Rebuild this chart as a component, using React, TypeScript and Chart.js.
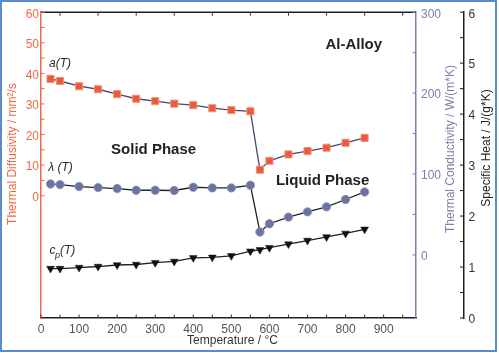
import React, { useEffect, useRef } from 'react';
import { Chart, registerables } from 'chart.js';

Chart.register(...registerables);

// ---- data ----
const temperatures = [25, 50, 100, 150, 200, 250, 300, 350, 400, 450, 500, 550, 575, 600, 650, 700, 750, 800, 850];
const diffusivity = [38.2, 37.5, 35.8, 34.8, 33.2, 31.7, 30.9, 30.1, 29.6, 28.6, 28.0, 27.6, 8.5, 11.4, 13.5, 14.6, 15.7, 17.3, 18.9];
const conductivity = [87.7, 86.9, 84.5, 83.2, 82.0, 79.9, 79.9, 79.6, 83.6, 82.8, 82.8, 86.1, 28.3, 38.5, 46.7, 53.2, 59.4, 68.5, 77.8];
const specificHeat = [0.97, 0.97, 0.99, 1.01, 1.04, 1.05, 1.085, 1.11, 1.18, 1.19, 1.22, 1.31, 1.34, 1.38, 1.45, 1.52, 1.59, 1.66, 1.74];

// ---- ticks ----
const xTicks = [0, 50, 100, 150, 200, 250, 300, 350, 400, 450, 500, 550, 600, 650, 700, 750, 800, 850, 900, 950];
const xLabels = ['0', '100', '200', '300', '400', '500', '600', '700', '800', '900'];
const topTicks = [50, 150, 250, 350, 450, 550, 650, 750, 850, 950];
const diffTicks = [0, 5, 10, 15, 20, 25, 30, 35, 40, 45, 50, 55, 60];
const diffLabels = ['0', '10', '20', '30', '40', '50', '60'];
const condTicks = [0, 50, 100, 150, 200, 250, 300];
const condLabels = ['0', '100', '200', '300'];
const heatTicks = [0, 0.5, 1, 1.5, 2, 2.5, 3, 3.5, 4, 4.5, 5, 5.5, 6];
const heatLabels = ['0', '1', '2', '3', '4', '5', '6'];

const FONT = '"Liberation Sans", Arial, Helvetica, sans-serif';
const RED = '#ee6a45';
const SLATE = '#7b81aa';
const DARK = '#1e1e1e';

const decorPlugin = {
  id: 'decor',
  beforeDraw(chart: any) {
    const ctx = chart.ctx;
    ctx.save();
    ctx.fillStyle = '#ffffff';
    ctx.fillRect(0, 0, chart.width, chart.height);
    ctx.restore();
  },
  afterDraw(chart: any) {
    const ctx = chart.ctx;
    const { x, y, y2, y3 } = chart.scales;
    const area = chart.chartArea;
    ctx.save();

    // top border line
    ctx.strokeStyle = DARK;
    ctx.lineWidth = 1.5;
    ctx.beginPath();
    ctx.moveTo(area.left, area.top);
    ctx.lineTo(area.right, area.top);
    ctx.stroke();

    // inward tick marks
    ctx.lineWidth = 1;
    ctx.strokeStyle = '#333';
    ctx.beginPath();
    xTicks.forEach((v) => {
      const p = x.getPixelForValue(v);
      ctx.moveTo(p, area.bottom);
      ctx.lineTo(p, area.bottom - 3.5);
    });
    topTicks.forEach((v) => {
      const p = x.getPixelForValue(v);
      ctx.moveTo(p, area.top);
      ctx.lineTo(p, area.top + 3.5);
    });
    ctx.stroke();

    ctx.strokeStyle = RED;
    ctx.beginPath();
    diffTicks.forEach((v) => {
      const p = y.getPixelForValue(v);
      ctx.moveTo(area.left, p);
      ctx.lineTo(area.left + 3.5, p);
    });
    ctx.stroke();

    ctx.strokeStyle = SLATE;
    ctx.beginPath();
    condTicks.forEach((v) => {
      const p = y2.getPixelForValue(v);
      ctx.moveTo(area.right, p);
      ctx.lineTo(area.right - 3.5, p);
    });
    ctx.stroke();

    ctx.strokeStyle = DARK;
    ctx.beginPath();
    heatTicks.forEach((v) => {
      const p = y3.getPixelForValue(v);
      ctx.moveTo(y3.left, p);
      ctx.lineTo(y3.left - 4, p);
    });
    ctx.stroke();

    // axis titles
    const vTitle = (text: string, cx: number, cy: number, color: string) => {
      ctx.save();
      ctx.translate(cx, cy);
      ctx.rotate(-Math.PI / 2);
      ctx.fillStyle = color;
      ctx.font = `12px ${FONT}`;
      ctx.textAlign = 'center';
      ctx.textBaseline = 'middle';
      ctx.fillText(text, 0, 0);
      ctx.restore();
    };
    vTitle('Thermal Diffusivity / mm²/s', 13, 154, RED);
    vTitle('Thermal Conductivity / W/(m*K)', 450.5, 149, SLATE);
    vTitle('Specific Heat / J/(g*K)', 487, 148, '#222');

    ctx.fillStyle = '#333';
    ctx.font = `12px ${FONT}`;
    ctx.textAlign = 'center';
    ctx.textBaseline = 'middle';
    ctx.fillText('Temperature / °C', 232.5, 341);

    // annotations
    ctx.fillStyle = '#2a2a2a';
    ctx.textAlign = 'left';
    ctx.textBaseline = 'middle';
    ctx.font = `italic 12px ${FONT}`;
    ctx.fillText('a(T)', x.getPixelForValue(21), y.getPixelForValue(43.1));
    ctx.fillText('λ (T)', x.getPixelForValue(19), y.getPixelForValue(9.2));
    const cx = x.getPixelForValue(22);
    const cy = y3.getPixelForValue(1.32);
    ctx.fillText('c', cx, cy);
    const cw = ctx.measureText('c').width;
    ctx.font = `italic 9px ${FONT}`;
    ctx.fillText('p', cx + cw - 0.5, cy + 5);
    const pw = ctx.measureText('p').width;
    ctx.font = `italic 12px ${FONT}`;
    ctx.fillText('(T)', cx + cw + pw - 0.5, cy);

    ctx.fillStyle = '#222';
    ctx.font = `bold 15px ${FONT}`;
    ctx.fillText('Al-Alloy', x.getPixelForValue(747), y.getPixelForValue(49.2));
    ctx.fillText('Solid Phase', x.getPixelForValue(184), y.getPixelForValue(14.9));
    ctx.fillText('Liquid Phase', x.getPixelForValue(617), y.getPixelForValue(4.9));

    // frame
    ctx.strokeStyle = '#5b8bc9';
    ctx.lineWidth = 2;
    ctx.strokeRect(1, 1, 495, 350);
    ctx.restore();
  },
};

export default function App() {
  const canvasRef = useRef<HTMLCanvasElement | null>(null);

  useEffect(() => {
    if (!canvasRef.current) return;
    Chart.defaults.font.family = FONT;
    const pts = (vals: number[]) => temperatures.map((t, i) => ({ x: t, y: vals[i] }));

    const chart = new Chart(canvasRef.current, {
      type: 'line',
      data: {
        datasets: [
          {
            label: 'a(T)',
            yAxisID: 'y',
            data: pts(diffusivity),
            borderColor: '#4e4470',
            borderWidth: 1.3,
            pointStyle: 'rect',
            pointRadius: 5,
            pointBackgroundColor: '#e85c3c',
            pointBorderColor: '#f29076',
            pointBorderWidth: 1,
            tension: 0,
          },
          {
            label: 'λ(T)',
            yAxisID: 'y2',
            data: pts(conductivity),
            borderColor: '#222',
            borderWidth: 1.3,
            pointStyle: 'circle',
            pointRadius: 4.2,
            pointBackgroundColor: '#6b74a1',
            pointBorderColor: '#8a92b8',
            pointBorderWidth: 0.8,
            tension: 0,
          },
          {
            label: 'cp(T)',
            yAxisID: 'y3',
            data: pts(specificHeat),
            borderColor: '#222',
            borderWidth: 1.3,
            pointStyle: 'triangle',
            pointRotation: 180,
            pointRadius: 4.5,
            pointBackgroundColor: '#111',
            pointBorderColor: '#111',
            pointBorderWidth: 0.5,
            tension: 0,
          },
        ],
      },
      options: {
        animation: false,
        responsive: false,
        events: [],
        layout: { padding: { top: 10, left: 0, right: 0, bottom: 0 } },
        plugins: { legend: { display: false }, tooltip: { enabled: false } },
        scales: {
          x: {
            type: 'linear',
            position: 'bottom',
            min: 0,
            max: 985,
            afterBuildTicks: (s: any) => {
              s.ticks = xTicks.map((v) => ({ value: v }));
            },
            afterFit: (s: any) => {
              s.height = 35;
            },
            ticks: {
              autoSkip: false,
              maxRotation: 0,
              minRotation: 0,
              padding: 4,
              color: '#555',
              font: { size: 12 },
              callback: (v: any) => (xLabels.includes(String(v)) ? String(v) : ''),
            },
            grid: { display: false, drawTicks: false },
            border: { display: true, color: DARK, width: 1.5 },
          },
          y: {
            type: 'linear',
            position: 'left',
            min: -40,
            max: 60,
            afterBuildTicks: (s: any) => {
              s.ticks = diffTicks.map((v) => ({ value: v }));
            },
            afterFit: (s: any) => {
              s.width = 41;
            },
            ticks: {
              autoSkip: false,
              padding: 2,
              labelOffset: 2,
              color: RED,
              font: { size: 12 },
              callback: (v: any) => (diffLabels.includes(String(v)) ? String(v) : ''),
            },
            grid: { display: false, drawTicks: false },
            border: { display: true, color: RED, width: 1.5 },
          },
          y2: {
            type: 'linear',
            position: 'right',
            weight: 0,
            min: -78,
            max: 300,
            afterBuildTicks: (s: any) => {
              s.ticks = condTicks.map((v) => ({ value: v }));
            },
            afterFit: (s: any) => {
              s.width = 48;
            },
            ticks: {
              autoSkip: false,
              padding: 5,
              labelOffset: 2,
              color: SLATE,
              font: { size: 12 },
              callback: (v: any) => (condLabels.includes(String(v)) ? String(v) : ''),
            },
            grid: { display: false, drawTicks: false },
            border: { display: true, color: SLATE, width: 1.5 },
          },
          y3: {
            type: 'linear',
            position: 'right',
            weight: 1,
            min: 0,
            max: 6,
            afterBuildTicks: (s: any) => {
              s.ticks = heatTicks.map((v) => ({ value: v }));
            },
            afterFit: (s: any) => {
              s.width = 35;
            },
            ticks: {
              autoSkip: false,
              padding: 4.5,
              labelOffset: 2,
              color: '#333',
              font: { size: 12 },
              callback: (v: any) => (heatLabels.includes(String(v)) ? String(v) : ''),
            },
            grid: { display: false, drawTicks: false },
            border: { display: true, color: DARK, width: 1.5 },
          },
        },
      },
      plugins: [decorPlugin],
    } as any);

    return () => chart.destroy();
  }, []);

  return (
    <div style={{ position: 'fixed', left: 0, top: 0, width: 499, height: 353, background: '#fff' }}>
      <canvas ref={canvasRef} width={499} height={353} style={{ display: 'block' }} />
    </div>
  );
}
